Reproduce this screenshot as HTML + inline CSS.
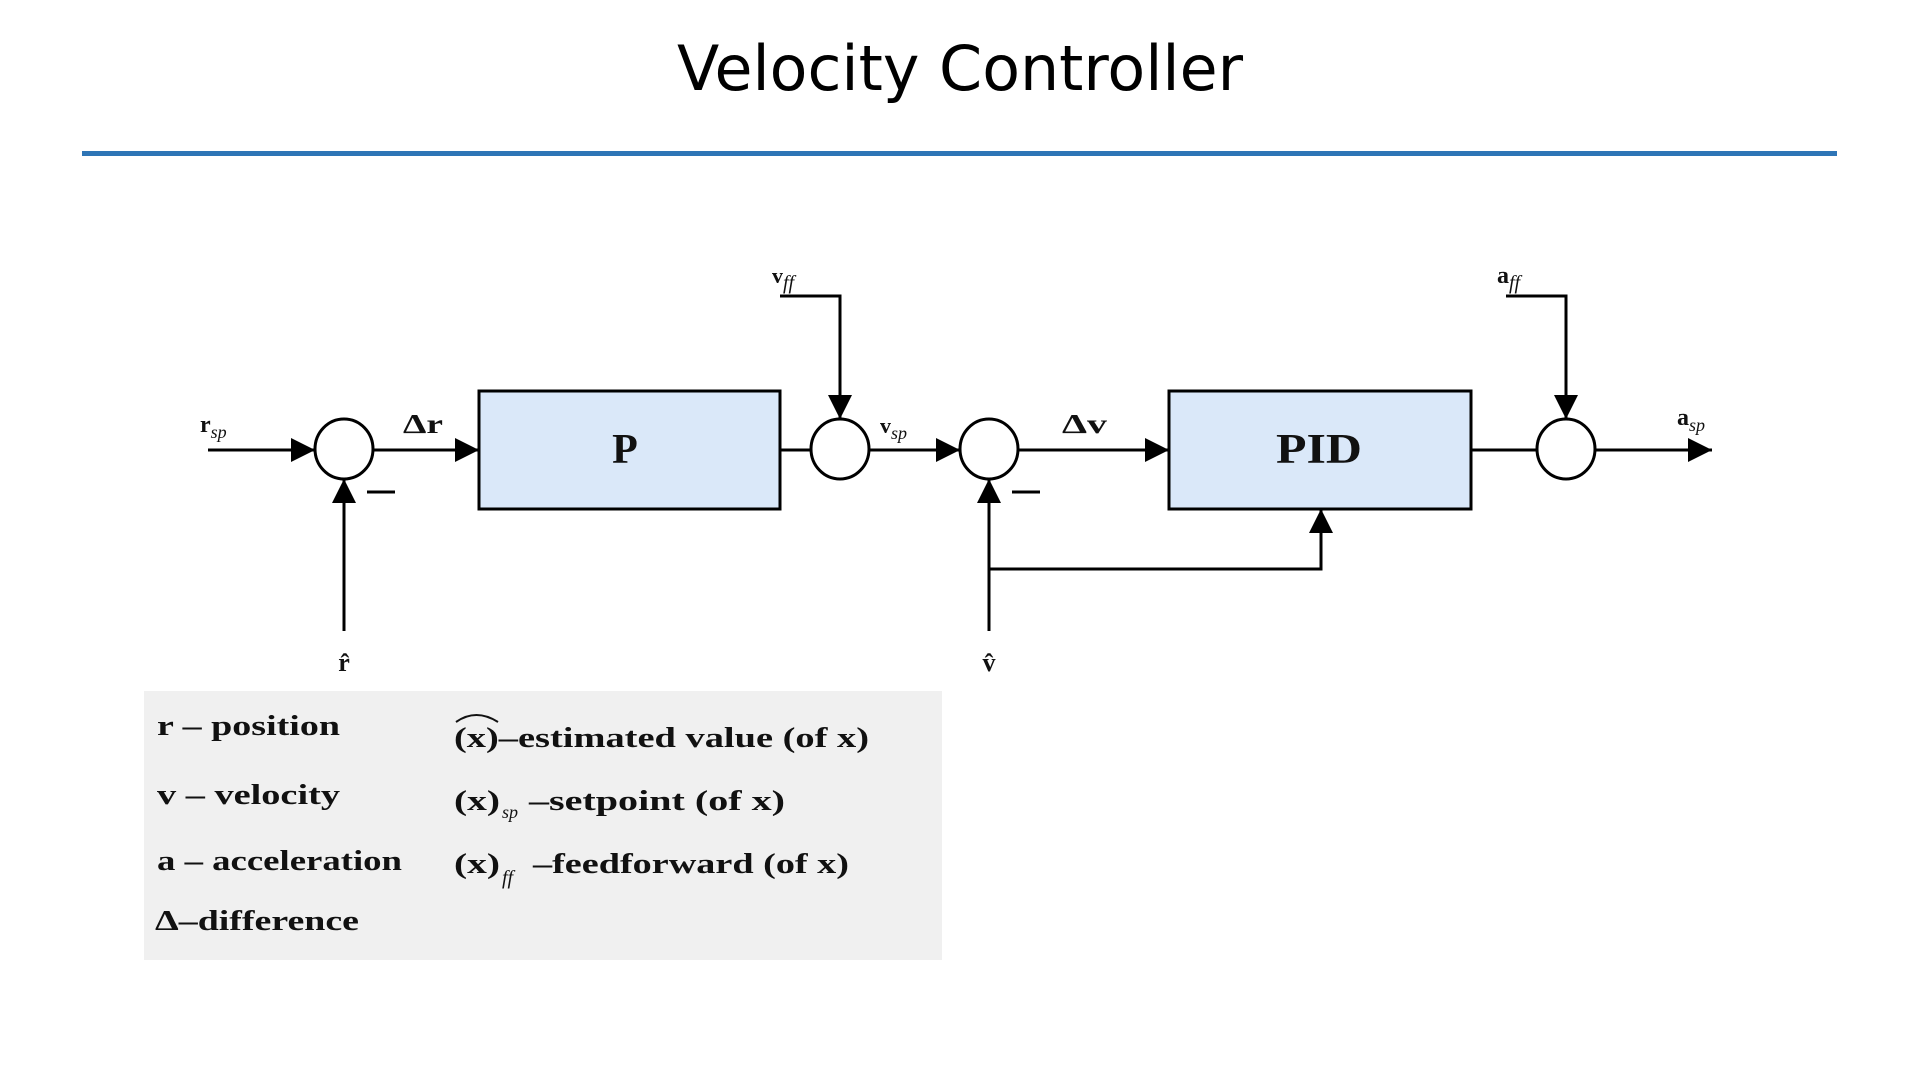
<!DOCTYPE html>
<html><head><meta charset="utf-8"><style>
html,body{margin:0;padding:0;background:#fff;}
svg{display:block}
.m{font-family:"Liberation Serif",serif;font-weight:bold;fill:#111}
.s{font-family:"Liberation Serif",serif;font-style:italic;fill:#111}
</style></head><body>
<svg width="1920" height="1080" viewBox="0 0 1920 1080" xmlns="http://www.w3.org/2000/svg">
<defs>
<marker id="b" markerWidth="24" markerHeight="24" refX="24" refY="12" orient="auto" markerUnits="userSpaceOnUse" viewBox="0 0 24 24"><path d="M0,0 L24,12 L0,24z" fill="#000"/></marker></defs>
<text x="960" y="90" text-anchor="middle" font-family="'DejaVu Sans','Liberation Sans',sans-serif" font-size="62" textLength="566" lengthAdjust="spacingAndGlyphs" fill="#000">Velocity Controller</text>
<rect x="82" y="151" width="1755" height="5" fill="#2e75b6"/>
<g stroke="#000" stroke-width="3" fill="none">
<rect x="479" y="391" width="301" height="118" fill="#dae8f9"/>
<rect x="1169" y="391" width="302" height="118" fill="#dae8f9"/>
<ellipse cx="344" cy="449" rx="29" ry="30" fill="#fff"/>
<ellipse cx="840" cy="449" rx="29" ry="30" fill="#fff"/>
<ellipse cx="989" cy="449" rx="29" ry="30" fill="#fff"/>
<ellipse cx="1566" cy="449" rx="29" ry="30" fill="#fff"/>
<line x1="208" y1="450" x2="315" y2="450" marker-end="url(#b)"/>
<line x1="373" y1="450" x2="479" y2="450" marker-end="url(#b)"/>
<line x1="780" y1="450" x2="811" y2="450"/>
<line x1="869" y1="450" x2="960" y2="450" marker-end="url(#b)"/>
<line x1="1018" y1="450" x2="1169" y2="450" marker-end="url(#b)"/>
<line x1="1471" y1="450" x2="1537" y2="450"/>
<line x1="1595" y1="450" x2="1712" y2="450" marker-end="url(#b)"/>
<polyline points="780,296 840,296 840,419" marker-end="url(#b)"/>
<polyline points="1506,296 1566,296 1566,419" marker-end="url(#b)"/>
<line x1="344" y1="631" x2="344" y2="479" marker-end="url(#b)"/>
<line x1="989" y1="631" x2="989" y2="479" marker-end="url(#b)"/>
<polyline points="989,569 1321,569 1321,509" marker-end="url(#b)"/>
<line x1="367" y1="492" x2="395" y2="492"/>
<line x1="1012" y1="492" x2="1040" y2="492"/>
</g>
<text class="m" x="625" y="463" text-anchor="middle" font-size="42">P</text>
<text class="m" x="1319" y="463" text-anchor="middle" font-size="42" textLength="86" lengthAdjust="spacingAndGlyphs">PID</text>
<text class="m" x="200" y="432" font-size="24">r<tspan class="s" font-weight="normal" font-size="18" dy="6">sp</tspan></text>
<text class="m" x="403" y="433" font-size="27" textLength="40" lengthAdjust="spacingAndGlyphs">Δr</text>
<text class="m" x="880" y="433" font-size="22">v<tspan class="s" font-weight="normal" font-size="18" dy="6">sp</tspan></text>
<text class="m" x="1062" y="433" font-size="27" textLength="45" lengthAdjust="spacingAndGlyphs">Δv</text>
<text class="m" x="772" y="283" font-size="22">v<tspan class="s" font-weight="normal" font-size="20" dy="6">ff</tspan></text>
<text class="m" x="1497" y="283" font-size="24">a<tspan class="s" font-weight="normal" font-size="20" dy="6">ff</tspan></text>
<text class="m" x="1677" y="425" font-size="24">a<tspan class="s" font-weight="normal" font-size="18" dy="6">sp</tspan></text>
<text class="m" x="344" y="671" text-anchor="middle" font-size="26">r̂</text>
<text class="m" x="989" y="671" text-anchor="middle" font-size="26">v̂</text>
<rect x="144" y="691" width="798" height="269" fill="#f0f0f0"/>
<g class="m" font-size="29">
<text x="157" y="735" textLength="183" lengthAdjust="spacingAndGlyphs">r – position</text>
<text x="157" y="804" textLength="183" lengthAdjust="spacingAndGlyphs">v – velocity</text>
<text x="157" y="870" textLength="245" lengthAdjust="spacingAndGlyphs">a – acceleration</text>
<text x="155" y="930" textLength="204" lengthAdjust="spacingAndGlyphs">Δ–difference</text>
<text x="454" y="747" textLength="415" lengthAdjust="spacingAndGlyphs">(x)–estimated value (of x)</text>
<path d="M456,722 Q476,708 498,722" stroke="#111" stroke-width="2" fill="none"/>
<text x="454" y="810" textLength="46" lengthAdjust="spacingAndGlyphs">(x)</text>
<text class="s" font-weight="normal" font-size="18" x="502" y="818">sp</text>
<text x="529" y="810" textLength="256" lengthAdjust="spacingAndGlyphs">–setpoint  (of x)</text>
<text x="454" y="873" textLength="46" lengthAdjust="spacingAndGlyphs">(x)</text>
<text class="s" font-weight="normal" font-size="20" x="502" y="884">ff</text>
<text x="533" y="873" textLength="316" lengthAdjust="spacingAndGlyphs">–feedforward  (of x)</text>
</g>
</svg>
</body></html>
